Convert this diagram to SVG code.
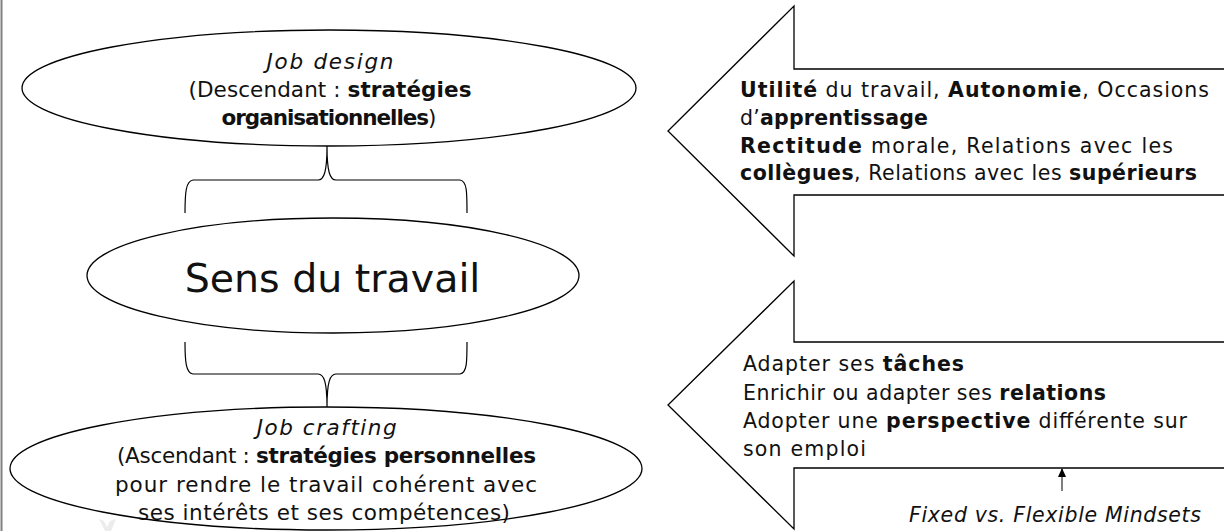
<svg xmlns="http://www.w3.org/2000/svg" width="1224" height="531" viewBox="0 0 1224 531">
<style>
text{font-family:"DejaVu Sans","Liberation Sans",sans-serif;font-size:20.5px;fill:#111}
.l{font-size:21.5px}
.c{text-anchor:middle}
.b{font-weight:bold}
.i{font-style:italic}
.shape{fill:#fff;stroke:#000;stroke-width:1.3}
.br{fill:none;stroke:#000;stroke-width:1.2}
</style>
<defs>
<marker id="ah" markerWidth="9" markerHeight="8" refX="8" refY="4" orient="auto" markerUnits="userSpaceOnUse" viewBox="0 0 9 8">
<path d="M0,0 L9,4 L0,8 Z" fill="#000"/>
</marker>
</defs>
<rect x="0" y="0" width="1224" height="531" fill="#fff"/>
<line x1="1.5" y1="0" x2="1.5" y2="531" stroke="#808080" stroke-width="2"/>
<path d="M99,519 L105,531 L111,531 L116,519 L110,521 L107,527 L104,521 Z" fill="#ececec"/>

<g id="node-job-design">
<ellipse class="shape" cx="329" cy="88" rx="307" ry="58"/>
<text class="l c i" x="330" y="68.5" textLength="127" lengthAdjust="spacing">Job design</text>
<text class="l c" x="330" y="97" textLength="283" lengthAdjust="spacing">(Descendant : <tspan class="b">stratégies</tspan></text>
<text class="l c" x="329" y="125" textLength="215" lengthAdjust="spacing"><tspan class="b">organisationnelles</tspan>)</text>
</g>

<g id="node-sens">
<ellipse class="shape" cx="333" cy="275.5" rx="246" ry="57.5"/>
<text class="c" x="332.5" y="292" style="font-size:39.5px">Sens du travail</text>
</g>

<g id="node-job-crafting">
<ellipse class="shape" cx="326" cy="468.5" rx="316" ry="61.5"/>
<text class="l c i" x="326.7" y="435" textLength="140" lengthAdjust="spacing">Job crafting</text>
<text class="l c" x="326.5" y="463.3" textLength="419" lengthAdjust="spacing">(Ascendant : <tspan class="b">stratégies personnelles</tspan></text>
<text class="l c" x="326" y="491.6" textLength="422" lengthAdjust="spacing">pour rendre le travail cohérent avec</text>
<text class="l c" x="324" y="520" textLength="372" lengthAdjust="spacing">ses intérêts et ses compétences)</text>
</g>

<g id="node-arrow-top">
<polygon class="shape" points="1230,69 794,69 794,6 668,131 794,256 794,195 1230,195"/>
<text x="740" y="97" textLength="469" lengthAdjust="spacing"><tspan class="b">Utilité</tspan> du travail, <tspan class="b">Autonomie</tspan>, Occasions</text>
<text x="740" y="124.5" textLength="188" lengthAdjust="spacing">d’<tspan class="b">apprentissage</tspan></text>
<text x="740" y="152.5" textLength="433" lengthAdjust="spacing"><tspan class="b">Rectitude</tspan> morale, Relations avec les</text>
<text x="740" y="180" textLength="457" lengthAdjust="spacing"><tspan class="b">collègues</tspan>, Relations avec les <tspan class="b">supérieurs</tspan></text>
</g>

<g id="node-arrow-bottom">
<polygon class="shape" points="1230,342 794,342 794,281 668,405 794,529 794,468 1230,468"/>
<text x="743" y="371" textLength="221" lengthAdjust="spacing">Adapter ses <tspan class="b">tâches</tspan></text>
<text x="743" y="399.5" textLength="363" lengthAdjust="spacing">Enrichir ou adapter ses <tspan class="b">relations</tspan></text>
<text x="743" y="428" textLength="444" lengthAdjust="spacing">Adopter une <tspan class="b">perspective</tspan> différente sur</text>
<text x="743" y="456" textLength="123" lengthAdjust="spacing">son emploi</text>
</g>

<g id="node-mindsets">
<text class="i" x="909" y="521.5" textLength="292" lengthAdjust="spacing">Fixed vs. Flexible Mindsets</text>
</g>

<g id="connectors">
<path class="br" d="M185,213 C185,192 186,181 193,180 L318,180 C324,180 327,172 327,146 C327,172 330,180 336,180 L460,180 C467,181 467,192 467,213"/>
<path class="br" d="M185,342 C185,362 186,373 193,374 L318,374 C324,374 327,382 327,407 C327,382 330,374 336,374 L460,374 C467,373 467,362 467,342"/>
<line x1="1062" y1="491" x2="1062" y2="469" stroke="#555" stroke-width="1.5" marker-end="url(#ah)"/>
</g>
</svg>
